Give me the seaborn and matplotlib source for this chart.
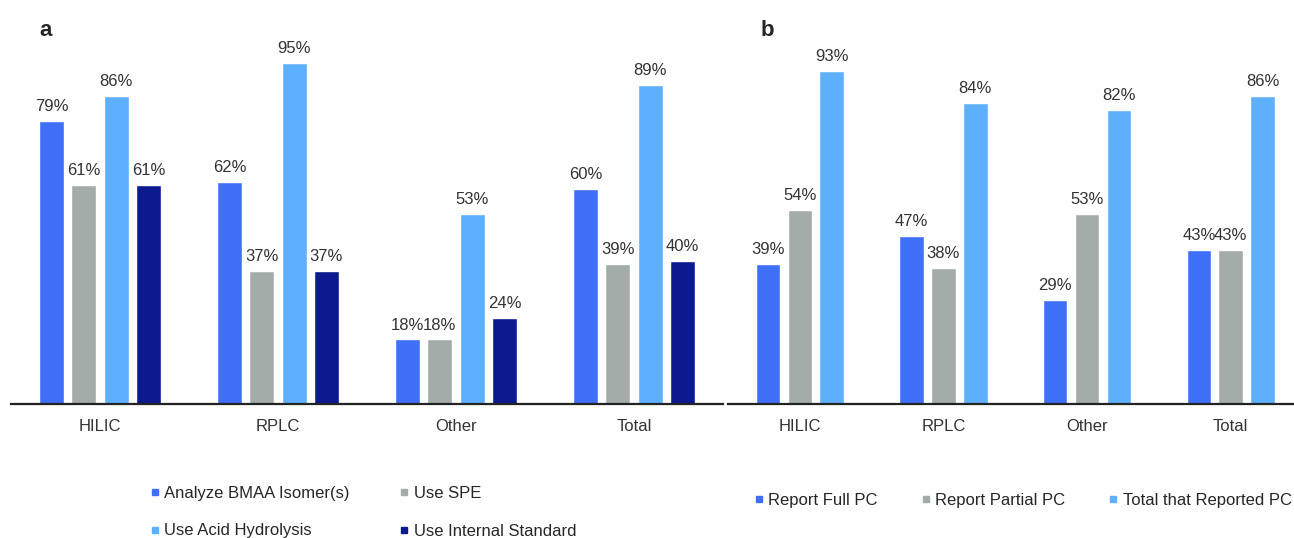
import matplotlib
matplotlib.use("Agg")
import matplotlib.pyplot as plt
from matplotlib.lines import Line2D
import pandas as pd
import seaborn as sns

# panel a data
groups = ["HILIC", "RPLC", "Other", "Total"]
series_a = ["Analyze BMAA Isomer(s)", "Use SPE", "Use Acid Hydrolysis", "Use Internal Standard"]
isomers = [79, 62, 18, 60]
spe = [61, 37, 18, 39]
acid_hydrolysis = [86, 95, 53, 89]
internal_std = [61, 37, 24, 40]

# panel b data
series_b = ["Report Full PC", "Report Partial PC", "Total that Reported PC"]
full_pc = [39, 47, 29, 43]
partial_pc = [54, 38, 53, 43]
total_pc = [93, 84, 82, 86]

colors_a = ["#3f6ff7", "#a3aca9", "#5fb0fc", "#0b1a8e"]
colors_b = ["#3f6ff7", "#a3aca9", "#5fb0fc"]


def long_form(series_names, columns):
    rows = []
    for name, vals in zip(series_names, columns):
        for g, v in zip(groups, vals):
            rows.append({"group": g, "series": name, "value": v})
    return pd.DataFrame(rows)


df_a = long_form(series_a, [isomers, spe, acid_hydrolysis, internal_std])
df_b = long_form(series_b, [full_pc, partial_pc, total_pc])

sns.set_theme(style="white")
plt.rcParams["font.family"] = ["Liberation Sans", "DejaVu Sans"]

W, H = 1294, 538
fig = plt.figure(figsize=(W / 100, H / 100), dpi=100)
bottom = (H - 404) / H
height = 358.5 / H
ax_a = fig.add_axes([11 / W, bottom, 712 / W, height])
ax_b = fig.add_axes([728 / W, bottom, (W - 728) / W, height])


def draw_panel(ax, df, names, colors, width, gap, xmax):
    sns.barplot(
        data=df, x="group", y="value", hue="series",
        order=groups, hue_order=names,
        palette=dict(zip(names, colors)),
        width=width, gap=gap, saturation=1, errorbar=None,
        legend=False, ax=ax,
    )
    for cont in ax.containers:
        ax.bar_label(cont, fmt="{:.0f}%", padding=5, fontsize=12, color="#333333")
    ax.set_ylim(0, 100)
    ax.set_xlim(-0.5, xmax)
    ax.set_xlabel("")
    ax.set_ylabel("")
    ax.set_yticks([])
    sns.despine(ax=ax, left=True)
    ax.spines["bottom"].set_color("#222222")
    ax.spines["bottom"].set_linewidth(1.6)
    ax.tick_params(axis="x", length=0, pad=11, labelsize=12, labelcolor="#333333")


draw_panel(ax_a, df_a, series_a, colors_a, 0.725, 0.23, 3.5)
draw_panel(ax_b, df_b, series_b, colors_b, 0.667, 0.23, 3.44)

fig.text(46 / W, 1 - 31 / H, "a", fontsize=16, fontweight="bold", ha="center", va="center")
fig.text(767 / W, 1 - 31 / H, "b", fontsize=16, fontweight="bold", ha="center", va="center")


def handles(colors):
    return [Line2D([], [], marker="s", linestyle="", markersize=5, color=c) for c in colors]


h_a = handles(colors_a)
order = [0, 2, 1, 3]
fig.legend(
    [h_a[i] for i in order], [series_a[i] for i in order],
    loc="upper left", bbox_to_anchor=(150 / W, 1 - 486 / H),
    ncol=2, frameon=False, fontsize=12, handlelength=0.55, handletextpad=0.3,
    columnspacing=3.0, labelspacing=1.35, borderpad=0, borderaxespad=0,
)
fig.legend(
    handles(colors_b), series_b,
    loc="upper left", bbox_to_anchor=(754 / W, 1 - 493 / H),
    ncol=3, frameon=False, fontsize=12, handlelength=0.55, handletextpad=0.3,
    columnspacing=2.6, borderpad=0, borderaxespad=0,
)

fig.savefig("out.png", dpi=100)
